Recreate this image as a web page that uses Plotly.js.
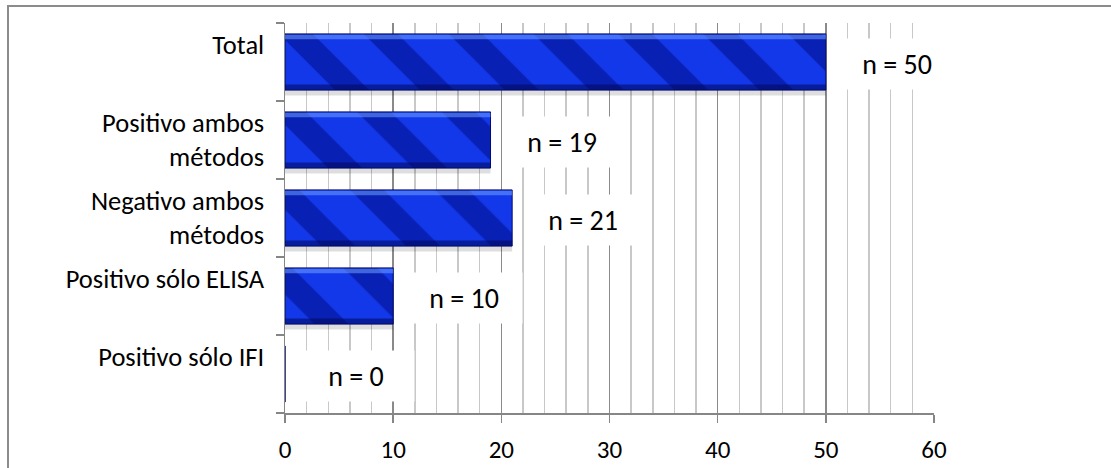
<!DOCTYPE html>
<html>
<head>
<meta charset="utf-8">
<script src="https://cdn.plot.ly/plotly-3.0.1.min.js"></script>
<style>
  html, body { margin: 0; padding: 0; background: #ffffff; }
  #chart { width: 1111px; height: 468px; position: relative; }
  #frame { position: absolute; left: 7px; top: 5px; width: 1200px; height: 600px;
           border: 2px solid #8c8c8c; pointer-events: none; box-sizing: border-box; }
</style>
</head>
<body>
<div id="chart"></div>
<div id="frame"></div>
<script>
// ---- data ----
const categories = ['Total', 'Positivo ambos métodos', 'Negativo ambos métodos', 'Positivo sólo ELISA', 'Positivo sólo IFI'];
const tickLabels = ['Total<br>\u00a0', 'Positivo ambos<br>métodos', 'Negativo ambos<br>métodos', 'Positivo sólo ELISA<br>\u00a0', 'Positivo sólo IFI<br>\u00a0'];
const counts = [50, 19, 21, 10, 0];
const valueLabels = ['n = 50', 'n = 19', 'n = 21', 'n = 10', 'n = 0'];
const xTickVals = [0, 10, 20, 30, 40, 50, 60];

const FONT = 'Carlito, Calibri, Lato, sans-serif';
const BARW = 0.72;

const traces = [
  // soft shadow
  { type: 'bar', orientation: 'h', y: categories, x: counts, width: BARW, offset: -BARW / 2 + 0.07,
    marker: { color: 'rgba(0,0,0,0.13)', line: { width: 0 } }, hoverinfo: 'skip', showlegend: false },
  // main bar body
  { type: 'bar', orientation: 'h', y: categories, x: counts, width: BARW,
    marker: { color: '#1338ea', line: { color: '#000a70', width: 1 },
              pattern: { shape: '\\', fgcolor: '#000c86', fgopacity: 0.55, size: 60, solidity: 0.4, fillmode: 'overlay' } },
    showlegend: false },
  // light top edge
  { type: 'bar', orientation: 'h', y: categories, x: counts, width: BARW * 0.08, offset: -BARW / 2 + 0.01,
    marker: { color: 'rgba(110,160,255,0.55)', line: { width: 0 } }, hoverinfo: 'skip', showlegend: false },
  // dark bottom edge
  { type: 'bar', orientation: 'h', y: categories, x: counts, width: BARW * 0.1, offset: BARW / 2 - BARW * 0.1,
    marker: { color: 'rgba(0,8,90,0.55)', line: { width: 0 } }, hoverinfo: 'skip', showlegend: false }
];

const annotations = categories.map((c, i) => ({
  x: counts[i], y: c, xref: 'x', yref: 'y',
  text: valueLabels[i], showarrow: false,
  xanchor: 'left', yanchor: 'middle', xshift: 12, yshift: -2,
  width: 104, height: 38, align: 'center', valign: 'middle',
  bgcolor: '#ffffff', borderpad: 6,
  font: { family: FONT, size: 28, color: '#000000' }
}));

const layout = {
  width: 1111, height: 468,
  margin: { l: 285, r: 177, t: 23, b: 55 },
  paper_bgcolor: 'rgba(0,0,0,0)', plot_bgcolor: '#ffffff',
  barmode: 'overlay',
  font: { family: FONT, size: 26, color: '#000000' },
  xaxis: {
    range: [0, 60], tickvals: xTickVals, ticks: 'outside', ticklen: 8, tickwidth: 1.5, tickcolor: '#868686',
    showline: true, linecolor: '#868686', linewidth: 1.5,
    showgrid: true, gridcolor: '#8a8a8a', gridwidth: 1.5,
    minor: { dtick: 2, showgrid: true, gridcolor: '#c8c8c8', gridwidth: 1.5, ticks: '' },
    zeroline: false, ticklabelstandoff: 5, tickfont: { size: 25 }, fixedrange: true
  },
  yaxis: {
    type: 'category', categoryorder: 'array', categoryarray: categories, autorange: 'reversed',
    tickmode: 'array', tickvals: categories, ticktext: tickLabels,
    ticks: 'outside', tickson: 'boundaries', ticklen: 8, tickwidth: 1.5, tickcolor: '#868686',
    showline: true, linecolor: '#868686', linewidth: 1.5, showgrid: false, zeroline: false,
    ticklabelstandoff: 14, tickfont: { size: 26.5 }, fixedrange: true
  },
  annotations: annotations
};

Plotly.newPlot('chart', traces, layout, { displayModeBar: false, staticPlot: true });
</script>
</body>
</html>
